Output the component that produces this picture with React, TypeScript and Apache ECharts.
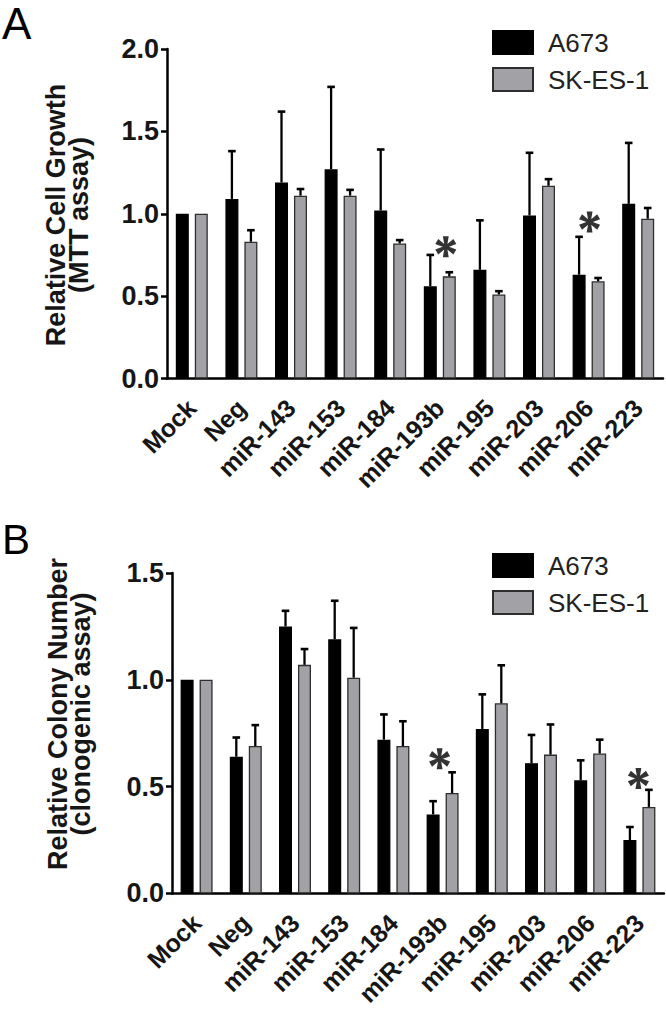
import React, { useEffect, useRef } from "react";
import * as echarts from "echarts";

const categories = ["Mock", "Neg", "miR-143", "miR-153", "miR-184", "miR-193b", "miR-195", "miR-203", "miR-206", "miR-223"];
const seriesNames = ["A673", "SK-ES-1"];

// Panel A: Relative cell growth (MTT assay)
const growthA673 = [1.0, 1.09, 1.19, 1.27, 1.02, 0.56, 0.66, 0.99, 0.63, 1.06];
const growthA673Err = [0, 0.29, 0.43, 0.5, 0.37, 0.19, 0.3, 0.38, 0.23, 0.37];
const growthSKES1 = [1.0, 0.83, 1.11, 1.11, 0.82, 0.62, 0.51, 1.17, 0.59, 0.97];
const growthSKES1Err = [0, 0.07, 0.04, 0.035, 0.02, 0.025, 0.02, 0.04, 0.02, 0.065];
const growthStars = [[5, 0.8], [8, 0.95]];

// Panel B: Relative colony number (clonogenic assay)
const colonyA673 = [1.0, 0.64, 1.25, 1.19, 0.72, 0.37, 0.77, 0.61, 0.53, 0.25];
const colonyA673Err = [0, 0.09, 0.073, 0.18, 0.118, 0.062, 0.162, 0.132, 0.093, 0.061];
const colonySKES1 = [1.0, 0.69, 1.07, 1.01, 0.69, 0.47, 0.89, 0.65, 0.655, 0.405];
const colonySKES1Err = [0, 0.098, 0.074, 0.233, 0.116, 0.097, 0.178, 0.141, 0.065, 0.08];
const colonyStars = [[5, 0.63], [9, 0.538]];

const FONT = "'Liberation Sans', Arial, Helvetica, sans-serif";
const TXT = "#161616";
const GREY = "#a2a2a6";
const BAR_W = 13;
const OFFSET = 9.5;

const ASTERISK =
  "path://M-2.8,-10L2.8,-10L1.1,0L2.8,10L-2.8,10L-1.1,0Z" +
  "M7.26,-7.42L10.06,-2.58L0.55,0.95L-7.26,7.42L-10.06,2.58L-0.55,-0.95Z" +
  "M-10.06,-2.58L-7.26,-7.42L0.55,-0.95L10.06,2.58L7.26,7.42L-0.55,0.95Z";

function errSeries(name: string, values: number[], errs: number[], axis: number, sign: number) {
  return {
    type: "custom",
    name,
    xAxisIndex: axis,
    yAxisIndex: axis,
    z: 4,
    silent: true,
    data: values.map((v, i) => [i, v, v + errs[i]]),
    renderItem: (params: any, api: any) => {
      const v = api.value(1);
      const e = api.value(2);
      if (e - v < 1e-6) return null;
      const p0 = api.coord([api.value(0), v]);
      const p1 = api.coord([api.value(0), e]);
      const x = p0[0] + sign * OFFSET;
      return {
        type: "group",
        children: [
          { type: "line", shape: { x1: x, y1: p0[1], x2: x, y2: p1[1] }, style: { stroke: "#000", lineWidth: 2.3 } },
          { type: "line", shape: { x1: x - 3.8, y1: p1[1], x2: x + 3.8, y2: p1[1] }, style: { stroke: "#000", lineWidth: 2.6 } },
        ],
      };
    },
  };
}

function barSeries(name: string, values: number[], axis: number, color: string, border: string) {
  return {
    type: "bar",
    name,
    xAxisIndex: axis,
    yAxisIndex: axis,
    barWidth: BAR_W,
    barGap: "46%",
    data: values,
    itemStyle: { color, borderColor: border, borderWidth: 1.3 },
  };
}

function starSeries(data: number[][], offsets: number[], axis: number) {
  return {
    type: "scatter",
    name: "sig" + axis,
    xAxisIndex: axis,
    yAxisIndex: axis,
    symbol: ASTERISK,
    symbolSize: 21,
    z: 5,
    silent: true,
    itemStyle: { color: "#000" },
    data: data.map((d, i) => ({ value: d, symbolOffset: [offsets[i], 0] })),
  };
}

function xAxis(grid: number) {
  return {
    type: "category",
    gridIndex: grid,
    data: categories,
    axisLine: { lineStyle: { color: "#000", width: 2.5 } },
    axisTick: { alignWithLabel: true, length: 7, lineStyle: { color: "#000", width: 2.5 } },
    axisLabel: {
      interval: 0,
      rotate: 45,
      margin: 25,
      fontFamily: FONT,
      fontWeight: "bold",
      fontSize: 25,
      color: TXT,
    },
  };
}

function yAxis(grid: number, max: number) {
  return {
    type: "value",
    gridIndex: grid,
    min: 0,
    max,
    interval: 0.5,
    splitLine: { show: false },
    axisLine: { show: true, lineStyle: { color: "#000", width: 2.5 } },
    axisTick: { show: true, length: 6, lineStyle: { color: "#000", width: 2.5 } },
    axisLabel: {
      margin: 8,
      fontFamily: FONT,
      fontWeight: "bold",
      fontSize: 27,
      color: TXT,
      formatter: (v: number) => v.toFixed(1),
    },
  };
}

function legend(top: number) {
  return {
    data: seriesNames,
    orient: "vertical",
    left: 492,
    top,
    padding: 0,
    itemWidth: 40,
    itemHeight: 23,
    itemGap: 11,
    icon: "rect",
    selectedMode: false,
    textStyle: { fontFamily: FONT, fontSize: 26, color: "#222", padding: [0, 0, 0, 10] },
  };
}

function titleText(lines: string, x: number, y: number) {
  return {
    type: "text",
    x,
    y,
    rotation: Math.PI / 2,
    style: {
      text: lines,
      font: `bold 27px ${FONT}`,
      fill: TXT,
      align: "center",
      verticalAlign: "middle",
      lineHeight: 23,
    },
  };
}

export default function App() {
  const ref = useRef<HTMLDivElement>(null);
  useEffect(() => {
    if (!ref.current) return;
    const chart = echarts.init(ref.current, undefined, { renderer: "svg" });
    chart.setOption({
      animation: false,
      backgroundColor: "#fff",
      grid: [
        { left: 167, top: 49, width: 496, height: 329.5 },
        { left: 172, top: 573, width: 492, height: 325.5 },
      ],
      xAxis: [xAxis(0), xAxis(1)],
      yAxis: [yAxis(0, 2), yAxis(1, 1.5)],
      legend: [legend(29.5), legend(552.5)],
      series: [
        barSeries("A673", growthA673, 0, "#000", "#000"),
        barSeries("SK-ES-1", growthSKES1, 0, GREY, "#2e2e2e"),
        errSeries("errA0", growthA673, growthA673Err, 0, -1),
        errSeries("errA1", growthSKES1, growthSKES1Err, 0, 1),
        starSeries(growthStars, [6, 1], 0),
        barSeries("A673", colonyA673, 1, "#000", "#000"),
        barSeries("SK-ES-1", colonySKES1, 1, GREY, "#2e2e2e"),
        errSeries("errB0", colonyA673, colonyA673Err, 1, -1),
        errSeries("errB1", colonySKES1, colonySKES1Err, 1, 1),
        starSeries(colonyStars, [-3, -1], 1),
      ],
      graphic: [
        { type: "text", x: 2, y: 23, style: { text: "A", font: `44px ${FONT}`, fill: "#000", verticalAlign: "middle" } },
        { type: "text", x: 2, y: 539, style: { text: "B", font: `42px ${FONT}`, fill: "#000", verticalAlign: "middle" } },
        titleText("Relative Cell Growth\n(MTT assay)", 67, 215),
        titleText("Relative Colony Number\n(clonogenic assay)", 69, 714),
      ],
    });
    return () => chart.dispose();
  }, []);
  return (
    <div
      ref={ref}
      style={{ position: "absolute", left: 0, top: 0, width: 666, height: 1009, background: "#fff" }}
    />
  );
}
